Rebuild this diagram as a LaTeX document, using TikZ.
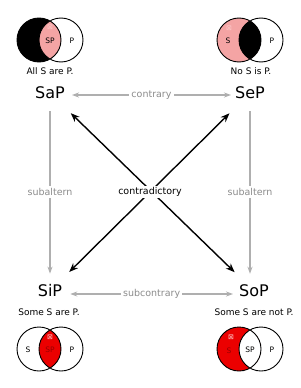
\documentclass[tikz,border=0pt]{standalone}
\usepackage{fontspec}
\setmainfont{DejaVu Sans}
\usetikzlibrary{arrows.meta}
\definecolor{lpink}{RGB}{244,164,164}
\definecolor{vred}{RGB}{235,0,0}
\definecolor{dred}{RGB}{150,0,0}
\definecolor{lgray}{RGB}{175,175,175}
\definecolor{tgray}{RGB}{140,140,140}
\definecolor{markpink}{RGB}{252,200,200}
\begin{document}
\begin{tikzpicture}[x=1pt,y=-1pt,
  big/.style={font=\fontsize{16}{16}\selectfont, inner sep=0pt},
  stmt/.style={font=\fontsize{9}{9}\selectfont, inner sep=0pt},
  rel/.style={font=\fontsize{9.5}{9.5}\selectfont, text=tgray, fill=white, inner sep=2pt},
  vlab/.style={font=\fontsize{7.5}{7.5}\selectfont, inner sep=0pt},
  exmark/.style={font=\fontsize{7}{7}\selectfont, inner sep=0pt},
  venn/.style={draw=black, line width=0.9pt},
  graya/.style={draw=lgray, line width=1.2pt, {Stealth[length=7pt,width=5pt]}-{Stealth[length=7pt,width=5pt]}},
  grayv/.style={draw=lgray, line width=1.2pt, -{Stealth[length=7pt,width=5pt]}},
  blacka/.style={draw=black, line width=1.4pt, {Stealth[length=9pt,width=7pt]}-{Stealth[length=9pt,width=7pt]}}
]
\useasboundingbox (0,0) rectangle (300,388);
\fill[white] (0,0) rectangle (300,388);

% ---- Venn: SaP (top left)
\fill[black] (39,40) circle[radius=22pt];
\begin{scope}\clip (39,40) circle[radius=22pt]; \fill[lpink] (61,40) circle[radius=22pt];\end{scope}
\draw[venn] (39,40) circle[radius=22pt] (61,40) circle[radius=22pt];
\node[exmark,text=markpink] (m1) at (50,27) {⊠};
\node[vlab] (v1a) at (50,41) {SP};
\node[vlab] (v1b) at (72,41) {P};

% ---- Venn: SeP (top right)
\fill[lpink] (239,40) circle[radius=22pt];
\begin{scope}\clip (239,40) circle[radius=22pt]; \fill[black] (261,40) circle[radius=22pt];\end{scope}
\draw[venn] (239,40) circle[radius=22pt] (261,40) circle[radius=22pt];
\node[exmark,text=markpink] (m2) at (229,28) {⊠};
\node[vlab] (v2a) at (228,41) {S};
\node[vlab] (v2b) at (272,41) {P};

% ---- Venn: SiP (bottom left)
\begin{scope}\clip (39,349) circle[radius=22pt]; \fill[vred] (61,349) circle[radius=22pt];\end{scope}
\draw[venn] (39,349) circle[radius=22pt] (61,349) circle[radius=22pt];
\node[exmark,text=markpink] (m3) at (50,337) {⊠};
\node[vlab,text=dred] (v3a) at (50,350) {SP};
\node[vlab] (v3b) at (28,350) {S};
\node[vlab] (v3c) at (72,350) {P};

% ---- Venn: SoP (bottom right)
\fill[vred] (239,349) circle[radius=22pt];
\begin{scope}\clip (239,349) circle[radius=22pt]; \fill[white] (261,349) circle[radius=22pt];\end{scope}
\draw[venn] (239,349) circle[radius=22pt] (261,349) circle[radius=22pt];
\node[exmark,text=markpink] (m4) at (231,337) {⊠};
\node[vlab,text=dred] (v4a) at (229,351) {S};
\node[vlab] (v4b) at (250,350) {SP};
\node[vlab] (v4c) at (272,350) {P};

% ---- statements
\node[stmt] (t1) at (50,71) {All S are P.};
\node[stmt] (t2) at (251,71) {No S is P.};
\node[stmt] (t3) at (49,312) {Some S are P.};
\node[stmt] (t4) at (254,312) {Some S are not P.};

% ---- big labels
\node[big] (sap) at (50,93) {SaP};
\node[big] (sep) at (250,93) {SeP};
\node[big] (sip) at (50,291) {SiP};
\node[big] (sop) at (254,291) {SoP};

% ---- contradictory
\draw[blacka, shorten <=20pt, shorten >=18pt] (sap) -- (sop);
\draw[blacka, shorten <=20pt, shorten >=18pt] (sep) -- (sip);
\node[font=\fontsize{9.5}{9.5}\selectfont, fill=white, inner sep=1.5pt] (cd) at (150,192) {contradictory};

% ---- contrary / subcontrary
\draw[graya] ([shift={(7,2)}]sap.east) -- ([shift={(-4,2)}]sep.west)
  node[rel, midway] (ct) {contrary};
\draw[graya] ([shift={(8,3)}]sip.east) -- ([shift={(-6,3)}]sop.west)
  node[rel, midway] (sc) {subcontrary};

% ---- subaltern
\draw[grayv, shorten <=12pt, shorten >=11pt] (sap.south) -- (sip.north)
  node[rel, pos=0.5] (sa1) {subaltern};
\draw[grayv, shorten <=12pt, shorten >=11pt] (sep.south) -- (sep.south |- sop.north)
  node[rel, pos=0.5] (sa2) {subaltern};
\end{tikzpicture}
\end{document}
